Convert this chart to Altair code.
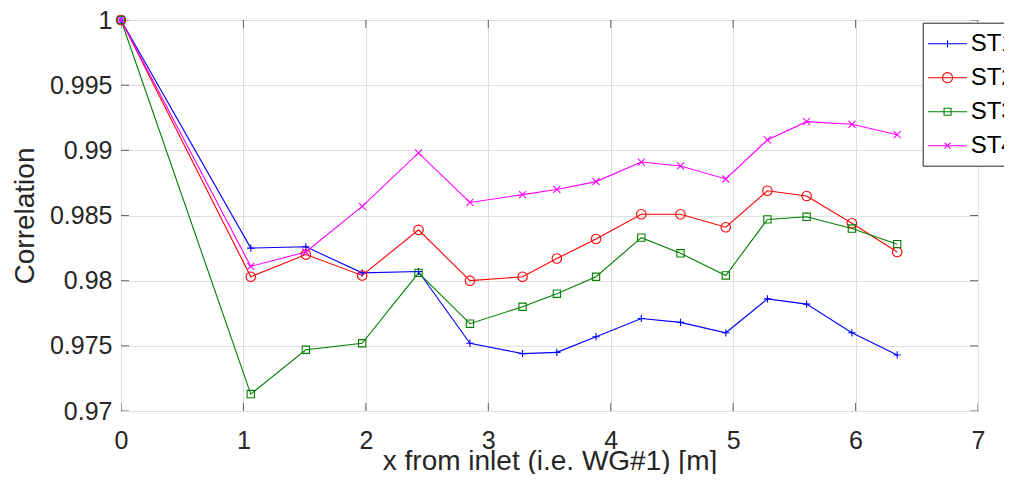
import altair as alt
import pandas as pd

# ---- data ----
x_pos = [0.0, 1.06, 1.51, 1.97, 2.43, 2.85, 3.28, 3.56, 3.88, 4.25, 4.57, 4.94, 5.28, 5.60, 5.97, 6.34]
st1 = [1.0, 0.9825, 0.9826, 0.9806, 0.9807, 0.9752, 0.9744, 0.9745, 0.9757, 0.9771, 0.9768, 0.9760, 0.9786, 0.9782, 0.9760, 0.9743]
st2 = [1.0, 0.9803, 0.9820, 0.9804, 0.9839, 0.9800, 0.9803, 0.9817, 0.9832, 0.9851, 0.9851, 0.9841, 0.9869, 0.9865, 0.9844, 0.9822]
st3 = [1.0, 0.9713, 0.9747, 0.9752, 0.9806, 0.9767, 0.9780, 0.9790, 0.9803, 0.9833, 0.9821, 0.9804, 0.9847, 0.9849, 0.9840, 0.9828]
st4 = [1.0, 0.9811, 0.9822, 0.9857, 0.9898, 0.9860, 0.9866, 0.9870, 0.9876, 0.9891, 0.9888, 0.9878, 0.9908, 0.9922, 0.9920, 0.9912]
names = ["ST1", "ST2", "ST3", "ST4"]
x_ticks = [0, 1, 2, 3, 4, 5, 6, 7]
y_ticks = [0.97, 0.975, 0.98, 0.985, 0.99, 0.995, 1.0]
x_range = [0, 7]
y_range = [0.97, 1.0]

colors = ["#0000ff", "#ff0000", "#008000", "#ff00ff"]

# marker shapes in the plot (unit square scaled by sqrt(size)/2)
plot_paths = [
    "M-0.73,0L0.73,0M0,-0.73L0,0.73",
    "M0.95,0A0.95,0.95,0,1,1,-0.95,0A0.95,0.95,0,1,1,0.95,0",
    "M-0.73,-0.73L0.73,-0.73L0.73,0.73L-0.73,0.73Z",
    "M-0.7,-0.7L0.7,0.7M-0.7,0.7L0.7,-0.7",
]
# legend symbols: line segment with marker
legend_paths = [
    "M-1.31,0L1.94,0M0.32,-0.29L0.32,0.29",
    "M-1.31,0L1.94,0M0.74,0A0.42,0.42,0,1,1,-0.10,0A0.42,0.42,0,1,1,0.74,0",
    "M-1.31,0L1.94,0M0.03,-0.29L0.61,-0.29L0.61,0.29L0.03,0.29Z",
    "M-1.31,0L1.94,0M0.07,-0.25L0.57,0.25M0.07,0.25L0.57,-0.25",
]

rows = []
for name, vals in zip(names, [st1, st2, st3, st4]):
    for xv, yv in zip(x_pos, vals):
        rows.append({"x": xv, "v": yv, "s": name})
df = pd.DataFrame(rows)

xt_df = pd.DataFrame([{"x": xv, "v": yv} for xv in x_ticks for yv in y_range])
yt_df = pd.DataFrame([{"x": xv, "v": yv} for yv in y_ticks for xv in x_range])

W, H = 857, 391
FONT = "Liberation Sans"
AX = "#262626"

xscale = alt.Scale(domain=x_range, nice=False, zero=False)
yscale = alt.Scale(domain=y_range, nice=False, zero=False)
cscale = alt.Scale(domain=names, range=colors)

x_axis = alt.Axis(
    orient="bottom", values=x_ticks, format="d", title="x from inlet (i.e. WG#1) [m]",
    ticks=False, tickSize=0, domain=False, grid=True, gridColor="#dfdfdf", gridWidth=1,
    labelFlush=False,
    labelFont=FONT, labelFontSize=25, labelColor=AX, labelPadding=17,
    titleFont=FONT, titleFontSize=28, titleFontWeight="normal", titleColor=AX,
    titleBaseline="alphabetic", titleY=58)
y_axis = alt.Axis(
    orient="left", values=y_ticks, format="~g", title="Correlation",
    ticks=False, tickSize=0, domain=False, grid=True, gridColor="#dfdfdf", gridWidth=1,
    labelFlush=False,
    labelFont=FONT, labelFontSize=25, labelColor=AX, labelPadding=9,
    titleFont=FONT, titleFontSize=28, titleFontWeight="normal", titleColor=AX,
    titleBaseline="alphabetic", titleX=-88)

leg = dict(title=None, orient="none", legendX=801.7, legendY=2.7, padding=8,
           strokeColor=AX, fillColor="white", symbolSize=576, symbolStrokeWidth=1.1,
           labelFont=FONT, labelFontSize=24, labelColor="black", labelOffset=14, rowPadding=9)

base = alt.Chart(df)

# first layer: invisible points that carry the axes and the legend
legend_layer = base.mark_point(filled=False, size=576, strokeWidth=1.1, opacity=0).encode(
    x=alt.X("x:Q", scale=xscale, axis=x_axis),
    y=alt.Y("v:Q", scale=yscale, axis=y_axis),
    color=alt.Color("s:N", scale=cscale, legend=alt.Legend(**leg)),
    shape=alt.Shape("s:N", scale=alt.Scale(domain=names, range=legend_paths), legend=alt.Legend(**leg)),
)

lines = base.mark_line(strokeWidth=1.1).encode(
    x=alt.X("x:Q", scale=xscale),
    y=alt.Y("v:Q", scale=yscale),
    color=alt.Color("s:N", scale=cscale),
)

# inward ticks on all four sides (outer half of each tick is clipped)
xticks_layer = alt.Chart(xt_df).mark_tick(orient="vertical", size=16, thickness=1, clip=True, color=AX).encode(
    x=alt.X("x:Q", scale=xscale),
    y=alt.Y("v:Q", scale=yscale),
)
yticks_layer = alt.Chart(yt_df).mark_tick(orient="horizontal", size=16, thickness=1, clip=True, color=AX).encode(
    x=alt.X("x:Q", scale=xscale),
    y=alt.Y("v:Q", scale=yscale),
)

point_layers = []
for i, name in enumerate(names):
    pl = base.transform_filter(alt.datum.s == name).mark_point(
        shape=plot_paths[i], filled=False, size=100, strokeWidth=1.1, opacity=1
    ).encode(
        x=alt.X("x:Q", scale=xscale),
        y=alt.Y("v:Q", scale=yscale),
        color=alt.Color("s:N", scale=cscale),
    )
    point_layers.append(pl)

chart = alt.layer(legend_layer, lines, xticks_layer, yticks_layer, *point_layers).properties(
    width=W, height=H,
    padding={"left": 113, "top": 12, "right": 26, "bottom": 63},
    autosize=alt.AutoSizeParams(type="none"),
    background="white",
).configure_view(stroke=AX, strokeWidth=1)

chart.save("out.html", embed_options={"renderer": "svg", "actions": False})
